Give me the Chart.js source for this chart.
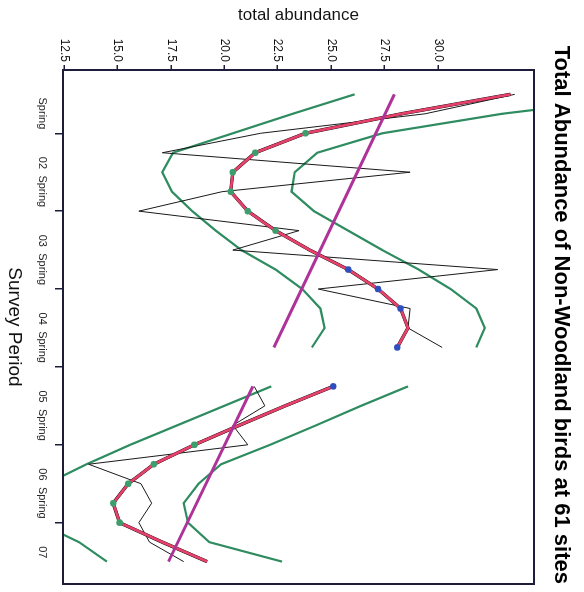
<!DOCTYPE html>
<html>
<head>
<meta charset="utf-8">
<title>Total Abundance of Non-Woodland birds at 61 sites</title>
<script src="https://cdn.jsdelivr.net/npm/chart.js@4.4.1/dist/chart.umd.min.js"></script>
<style>
  html, body { margin: 0; padding: 0; background: #fff; overflow: hidden; }
  /* the chart is drawn upright, then turned a quarter turn clockwise like the scan */
  #wrap { position: absolute; left: 0; top: 0; width: 592px; height: 584px;
          transform-origin: 0 0; transform: translate(584px, 0) rotate(90deg); }
  #chart { background: #fff; }
</style>
</head>
<body>
<div id="wrap"><canvas id="chart" width="592" height="584"></canvas></div>
<script>
"use strict";

// survey quarters, counted from Spring 02 (= 0)
const quarters1 = [-2, -1, 0, 1, 2, 3, 4, 5, 6, 7, 8, 9, 10, 11];
const quarters2 = [13, 14, 15, 16, 17, 18, 19, 20, 21, 22];

// observed totals
const observed1 = [33.6, 29.4, 21.7, 17.1, 28.7, 19.9, 16.0, 23.5, 20.4, 32.8, 24.4, 28.7, 28.6, 30.2];
const observed2 = [21.4, 21.9, 20.4, 21.1, 13.65, 16.1, 16.6, 16.0, 16.5, 18.1];

// smoothed fit and its confidence band
const smooth1 = [33.4, 28.3, 23.8, 21.45, 20.4, 20.3, 21.1, 22.4, 24.0, 25.8, 27.2, 28.25, 28.6, 28.1];
const upper1 = [40.5, 33.0, 27.4, 24.35, 23.3, 23.15, 24.2, 25.8, 27.4, 29.1, 30.6, 31.8, 32.2, 31.8];
const lower1 = [26.1, 23.2, 20.4, 17.6, 17.1, 17.55, 18.5, 19.6, 20.8, 22.4, 23.65, 24.5, 24.7, 24.1];

const smooth2 = [25.1, 22.85, 20.7, 18.6, 16.7, 15.5, 14.8, 15.1, 17.1, 19.2];
const upper2 = [28.6, 26.4, 24.3, 22.15, 19.85, 18.8, 18.1, 18.3, 19.3, 22.7];
const lower2 = [22.2, 20.0, 17.8, 15.6, 13.55, 11.7, 11.2, 11.3, 13.2, 14.5];

// marked points on the fit: 0 none, 1 first kind, 2 second kind
const marks1 = [0, 0, 1, 1, 1, 1, 1, 1, 0, 2, 2, 2, 0, 2];
const marks2 = [2, 0, 0, 1, 1, 1, 1, 1, 0, 0];

// linear trend, end points
const trendQuarters1 = [-2, 11];
const trend1 = [27.96, 22.32];
const trendQuarters2 = [13, 22];
const trend2 = [21.34, 17.39];

const periodTicks = [0, 4, 8, 12, 16, 20];
const periodLabels = ["Spring 02", "Spring 03", "Spring 04", "Spring 05", "Spring 06", "Spring 07"];
const abundanceTicks = [12.5, 15, 17.5, 20, 22.5, 25, 27.5, 30];

const NAVY = "#1d1d3b";
const GREEN = "#2f8c60";
const RED = "#e6416a";
const MAGENTA = "#ad3399";
const markColours = [null, "#3b9e6c", "#2f4fbf"];

function pts(xs, ys) {
    return xs.map(function (x, i) { return { x: x, y: ys[i] }; });
}

function line(data, colour, width, order) {
    return {
        data: data,
        borderColor: colour,
        borderWidth: width,
        pointRadius: 0,
        tension: 0,
        fill: false,
        order: order
    };
}

function fitLine(xs, ys, marks) {
    let ds = line(pts(xs, ys), RED, 2.8, 1);
    ds.pointRadius = marks.map(function (m) { return m ? 3.3 : 0; });
    ds.pointBackgroundColor = marks.map(function (m) { return markColours[m] || RED; });
    ds.pointBorderWidth = 0;
    return ds;
}

const frame = {
    id: "frame",
    afterDatasetsDraw: function (chart) {
        const a = chart.chartArea;
        const ctx = chart.ctx;
        ctx.save();
        ctx.strokeStyle = NAVY;
        ctx.lineWidth = 2;
        ctx.strokeRect(a.left, a.top, a.right - a.left, a.bottom - a.top);
        ctx.restore();
    }
};

Chart.defaults.font.family = "'Liberation Sans', Arial, sans-serif";

new Chart(document.getElementById("chart").getContext("2d"), {
    type: "line",
    data: {
        datasets: [
            line(pts(trendQuarters1, trend1), MAGENTA, 3, 0),
            line(pts(trendQuarters2, trend2), MAGENTA, 3, 0),
            fitLine(quarters1, smooth1, marks1),
            fitLine(quarters2, smooth2, marks2),
            line(pts(quarters1, smooth1), "#000", 3.4, 2),
            line(pts(quarters2, smooth2), "#000", 3.4, 2),
            line(pts(quarters1, observed1), "#1a1a1a", 1, 3),
            line(pts(quarters2, observed2), "#1a1a1a", 1, 3),
            line(pts(quarters1, upper1), GREEN, 2.2, 4),
            line(pts(quarters1, lower1), GREEN, 2.2, 4),
            line(pts(quarters2, upper2), GREEN, 2.2, 4),
            line(pts(quarters2, lower2), GREEN, 2.2, 4)
        ]
    },
    options: {
        responsive: false,
        animation: false,
        layout: { padding: { left: 0, right: 8, top: 0, bottom: 0 } },
        plugins: {
            legend: { display: false },
            tooltip: { enabled: false },
            title: {
                display: true,
                text: "Total Abundance of Non-Woodland birds at 61 sites",
                align: "end",
                color: "#000",
                font: { size: 22, weight: "bold" },
                padding: { top: 10, bottom: 13.6 }
            }
        },
        scales: {
            x: {
                type: "linear",
                min: -3.25,
                max: 23.15,
                afterBuildTicks: function (s) { s.ticks = periodTicks.map(function (v) { return { value: v }; }); },
                afterFit: function (s) { s.height = 63; },
                ticks: {
                    autoSkip: false,
                    maxRotation: 0,
                    minRotation: 0,
                    padding: 6,
                    color: "#222",
                    font: { size: 11 },
                    callback: function (v) {
                        const i = periodTicks.indexOf(v);
                        return i < 0 ? "" : periodLabels[i].replace(" ", "         ");
                    }
                },
                grid: { drawOnChartArea: false, drawTicks: true, tickLength: 8, color: NAVY, lineWidth: 1.5 },
                border: { display: false },
                title: {
                    display: true,
                    text: "Survey Period",
                    color: "#111",
                    font: { size: 19 },
                    padding: { top: 0, bottom: 3 }
                }
            },
            y: {
                type: "linear",
                min: 12.45,
                max: 34.5,
                afterBuildTicks: function (s) { s.ticks = abundanceTicks.map(function (v) { return { value: v }; }); },
                afterFit: function (s) { s.width = 70; },
                ticks: {
                    padding: 3,
                    color: "#111",
                    font: { size: 12 },
                    callback: function (v) { return v.toFixed(1); }
                },
                grid: { drawOnChartArea: false, drawTicks: true, tickLength: 5, color: NAVY, lineWidth: 1.5 },
                border: { display: false },
                title: {
                    display: true,
                    text: "total abundance",
                    color: "#111",
                    font: { size: 17 },
                    padding: { top: 5, bottom: 0 }
                }
            }
        }
    },
    plugins: [frame]
});
</script>
</body>
</html>
